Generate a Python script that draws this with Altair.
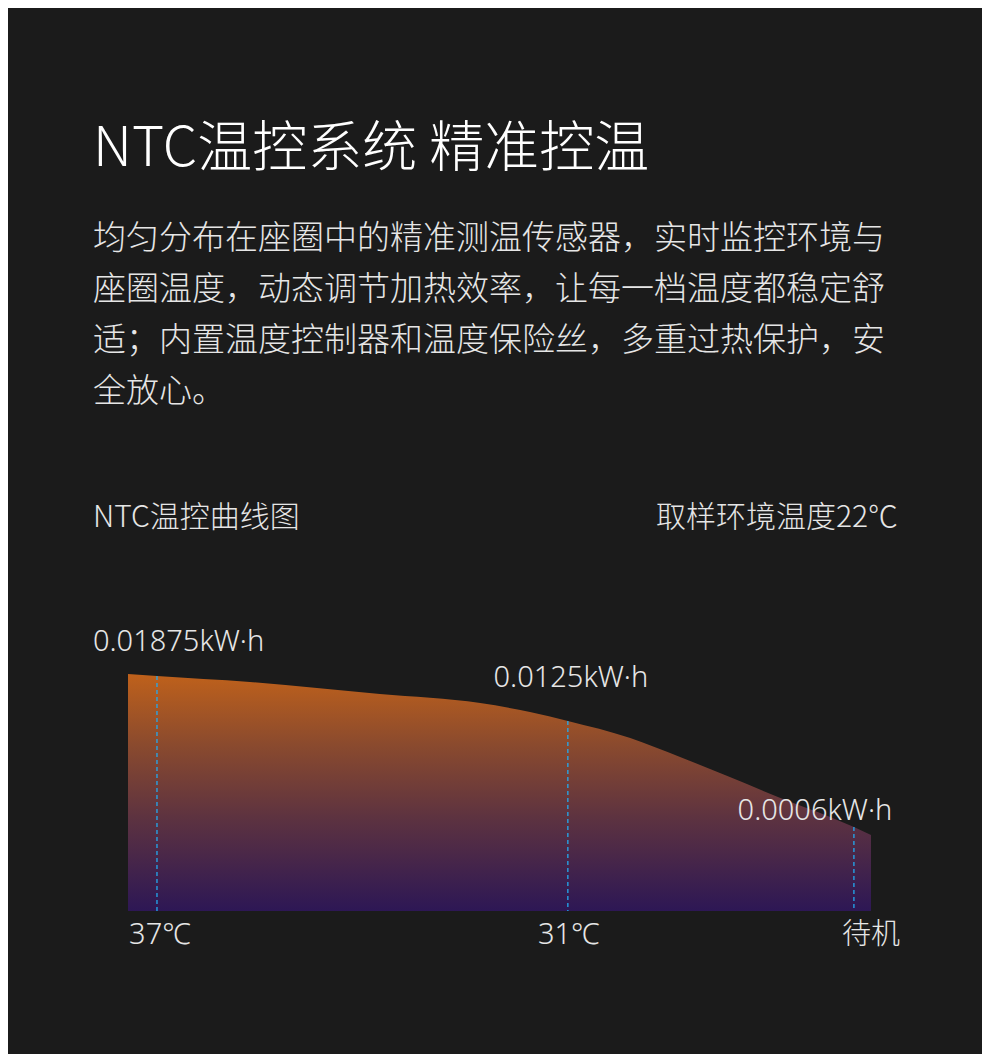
import altair as alt
import pandas as pd

# ---- data ----
curve_pos = [0, 3.9, 16.4, 33.9, 47.4, 54.1, 59.2, 67.6, 74.3, 81.0, 87.8, 94.5, 97.7, 100]
curve_val = [237, 235, 229, 217, 208, 199, 190, 173, 154, 134, 113, 94, 84, 76]

mark_pos = [3.9, 59.2, 97.7]
mark_val = [235, 190, 84]
energy_labels = ["0.01875kW·h", "0.0125kW·h", "0.0006kW·h"]
temp_labels = ["37℃", "31℃", "待机"]

title_text = "NTC温控系统 精准控温"
para_lines = [
    "均匀分布在座圈中的精准测温传感器，实时监控环境与",
    "座圈温度，动态调节加热效率，让每一档温度都稳定舒",
    "适；内置温度控制器和温度保险丝，多重过热保护，安",
    "全放心。",
]
sub_left = "NTC温控曲线图"
sub_right = "取样环境温度22℃"

FONT = "Noto Sans CJK SC"
LATIN = "'Noto Sans', 'Noto Sans CJK SC'"
BG = "#1b1b1b"
TXT = "#e6e6e6"
W = 300

curve_df = pd.DataFrame({"pos": curve_pos, "val": curve_val})
marks_df = pd.DataFrame({"pos": mark_pos, "val": mark_val,
                         "energy": energy_labels, "temp": temp_labels})

xs = alt.Scale(domain=[0, 100], range=[120, 863])
ys = alt.Scale(domain=[0, 237], range=[903, 666])
X = alt.X("pos:Q", scale=xs, axis=None)
Y = alt.Y("val:Q", scale=ys, axis=None)

area = alt.Chart(curve_df).mark_area(
    interpolate="monotone",
    color=alt.Gradient(
        gradient="linear",
        stops=[alt.GradientStop(color="#bf611b", offset=0),
               alt.GradientStop(color="#8a4a2e", offset=0.3),
               alt.GradientStop(color="#5e3340", offset=0.6),
               alt.GradientStop(color="#2d1755", offset=1)],
        x1=0, x2=0, y1=0, y2=1),
).encode(x=X, y=Y, y2=alt.Y2(datum=0))

rules = alt.Chart(marks_df).mark_rule(
    color="#22aaf0", strokeWidth=1.3, strokeDash=[4, 3]
).encode(x=X, y=Y, y2=alt.Y2(datum=0))


def lab(i, dx, dy, align="center"):
    return alt.Chart(marks_df.iloc[[i]]).mark_text(
        font=LATIN, fontSize=29, fontWeight=W, color=TXT, align=align,
        baseline="middle", dx=dx, dy=dy
    ).encode(x=X, y=Y, text="energy:N")


e0 = lab(0, -64, -34, align="left")
e1 = lab(1, 3, -43)
e2 = lab(2, -39, -16)


def tlab(i, dx):
    return alt.Chart(marks_df.iloc[[i]]).mark_text(
        font=LATIN, fontSize=29, fontWeight=W, color=TXT, baseline="middle", dx=dx
    ).encode(x=X, y=alt.value(927), text="temp:N")


t0 = tlab(0, 3)
t1 = tlab(1, 1)
t2 = tlab(2, 17)

title = alt.Chart(pd.DataFrame({"t": [title_text]})).mark_text(
    font=FONT, fontSize=55, fontWeight=W, color="#ffffff", align="left", baseline="middle"
).encode(x=alt.value(85), y=alt.value(141), text="t:N")

para = alt.Chart(pd.DataFrame({"t": ["\n".join(para_lines)]})).mark_text(
    font=FONT, fontSize=33, fontWeight=W, color=TXT, align="left", baseline="middle",
    lineBreak="\n", lineHeight=51,
).encode(x=alt.value(85), y=alt.value(231), text="t:N")

subl = alt.Chart(pd.DataFrame({"t": [sub_left]})).mark_text(
    font=FONT, fontSize=30, fontWeight=W, color=TXT, align="left", baseline="middle"
).encode(x=alt.value(85), y=alt.value(510), text="t:N")

subr = alt.Chart(pd.DataFrame({"t": [sub_right]})).mark_text(
    font=FONT, fontSize=30, fontWeight=W, color=TXT, align="right", baseline="middle"
).encode(x=alt.value(890), y=alt.value(510), text="t:N")

chart = alt.layer(area, rules, e0, e1, e2, t0, t1, t2, title, para, subl, subr).properties(
    width=974, height=1046, background=BG, padding=0,
    autosize=alt.AutoSizeParams(type="none"),
).configure_view(stroke=None)

chart.save("out.html", embed_options={"renderer": "svg", "actions": False})
